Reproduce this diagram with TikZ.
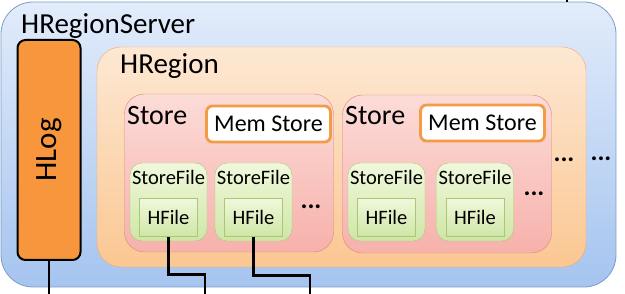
\documentclass[tikz,border=0pt]{standalone}
\usepackage{fontspec}
\setmainfont{Carlito}
\usetikzlibrary{positioning}
\definecolor{srvline}{HTML}{7D9CC6}
\definecolor{srvtop}{HTML}{E2ECFB}
\definecolor{srvbot}{HTML}{A5C4EF}
\definecolor{regline}{HTML}{F2A866}
\definecolor{regtop}{HTML}{FDE8D3}
\definecolor{regbot}{HTML}{FBC792}
\definecolor{stline}{HTML}{D98580}
\definecolor{sttop}{HTML}{FCDCD8}
\definecolor{stbot}{HTML}{F7B1AB}
\definecolor{sfline}{HTML}{A9C777}
\definecolor{sftop}{HTML}{F0F8DC}
\definecolor{sfbot}{HTML}{CFE6A6}
\definecolor{logfill}{HTML}{F7963D}
\definecolor{memline}{HTML}{F39B45}
\tikzset{
  serverbox/.style ={draw=srvline,thick,rounded corners=32,top color=srvtop,bottom color=srvbot,
                     minimum width=615,minimum height=285},
  regionbox/.style ={draw=regline,rounded corners=24,top color=regtop,bottom color=regbot,
                     minimum width=489,minimum height=220},
  storebox/.style  ={draw=stline,rounded corners=20,top color=sttop,bottom color=stbot,
                     minimum width=209,minimum height=158},
  membox/.style    ={draw=memline,line width=2.8,rounded corners=6,fill=white,inner sep=1,
                     minimum width=124,minimum height=36,font=\fontsize{24}{26}\selectfont},
  sfbox/.style     ={draw=sfline,rounded corners=12,top color=sftop,bottom color=sfbot,
                     minimum width=77,minimum height=78},
  hfbox/.style     ={draw=sfline,top color=sftop,bottom color=sfbot,
                     minimum width=58,minimum height=38,font=\fontsize{20.5}{23}\selectfont},
  sflbl/.style     ={font=\fontsize{20.5}{23}\selectfont,inner sep=0},
  biglbl/.style    ={font=\fontsize{29}{32}\selectfont,inner sep=0,anchor=west},
  dots/.style      ={font=\fontsize{26}{28}\selectfont\bfseries,inner sep=0},
  wire/.style      ={line width=2.6,black},
}
\begin{document}
\begin{tikzpicture}[x=1pt,y=-1pt]
\useasboundingbox (0,0) rectangle (625,294);
% ---- region server and its log ----
\node[serverbox] (srv) at (308.5,144.5) {};
\node[biglbl] (srvlbl) at (21,26) {HRegionServer};
\node[draw=black,line width=2,rounded corners=8,fill=logfill,minimum width=63,minimum height=220]
  (hlog) at (49,150) {};
\node[rotate=90,font=\fontsize{31}{34}\selectfont] at (hlog) {HLog};
% ---- region ----
\node[regionbox] (reg) at (341.5,157) {};
\node[biglbl] (reglbl) at (120,66) {HRegion};
% ---- two stores ----
\node[storebox] (st1) at (229,173) {};
\node[storebox] (st2) at (447,174) {};
\node[biglbl,font=\fontsize{28}{31}\selectfont] at (127,116) {Store};
\node[biglbl,font=\fontsize{28}{31}\selectfont] at (345,116) {Store};
\node[membox] (mem1) at (268.5,124) {Mem Store};
\node[membox] (mem2) at (482.5,123) {Mem Store};
% ---- store files with their hfiles ----
\foreach \n/\x in {sf1/168.5,sf2/253.5,sf3/386.5,sf4/475}{
  \node[sfbox] (\n) at (\x,202) {};
  \node[sflbl] at (\x,177) {StoreFile};
  \node[hfbox] (\n hf) at (\x,217.5) {HFile};
}
\node[dots] at (311,207) {...};
\node[dots] at (534,194) {...};
\node[dots] at (564,160) {...};
\node[dots] at (601,159) {...};
% ---- wires leaving the server ----
\coordinate (logout) at (49,294);
\coordinate (hfout1) at (205,294);
\coordinate (hfout2) at (310,294);
\coordinate (srvin) at (567,0);
\draw[wire] (hlog.south) -- (logout);
\draw[wire] (sf1hf.south) -- ++(0,38) -| (hfout1);
\draw[wire] (sf2hf.south) -- ++(0,39) -| (hfout2);
\draw[wire] (srv.north -| srvin) -- (srvin);
\end{tikzpicture}
\end{document}
